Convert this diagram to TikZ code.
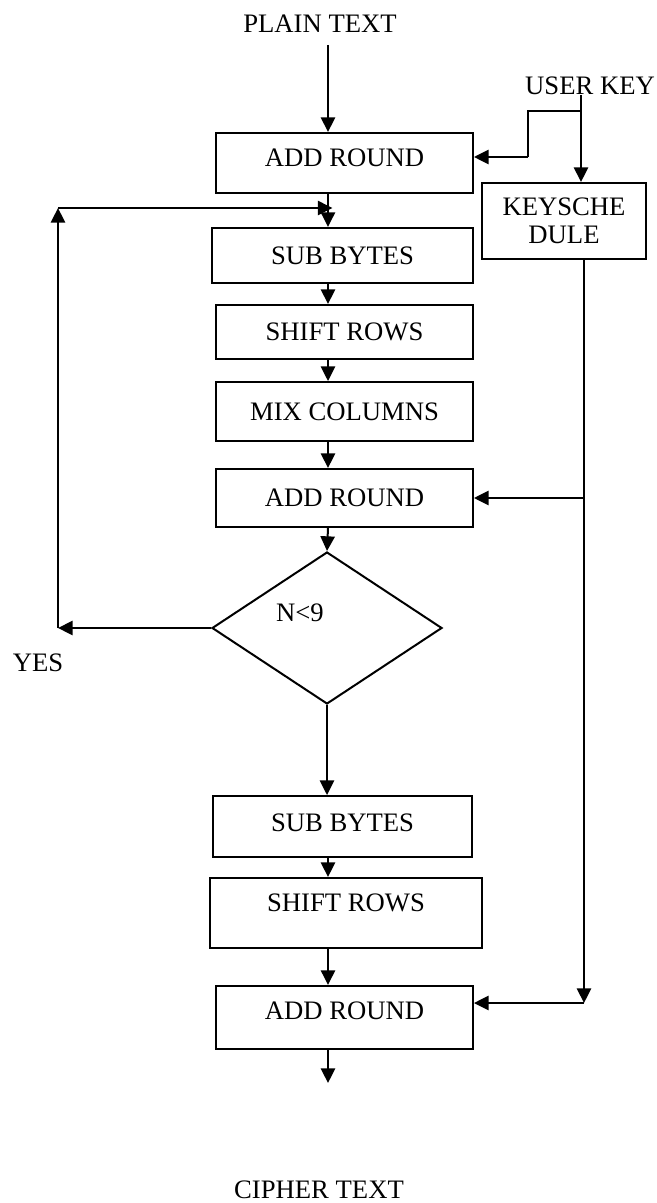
\documentclass[tikz,border=0pt]{standalone}
\usepackage{fontspec}
\setmainfont{Liberation Serif}
\usepackage{tikz}
\usetikzlibrary{ % tikz packages
    shapes.geometric,
    arrows.meta
}
\tikzset{block/.style={
    draw,
    rectangle,
    line width=0.9pt,
    inner sep=2pt,
    minimum width=115.6pt,
    minimum height=26pt
}}
\tikzset{decision/.style={
    draw,
    diamond,
    line width=0.9pt,
    inner sep=0pt,
    minimum width=103.5pt,
    minimum height=68.4pt
}}
\tikzset{caption/.style={
    inner sep=0pt,
    outer sep=0pt
}}
\tikzset{>={Triangle[length=6.6pt,width=6.4pt]}}

\begin{document}
\begin{tikzpicture}[x=0.45pt,y=-0.45pt,line width=0.9pt,
        every node/.style={font=\fontsize{12}{12.6}\selectfont}]
        \useasboundingbox (0,0) rectangle (657,1203);

        \node[caption] (pt) at (320,24) {PLAIN TEXT};
        \node[caption] (uk) at (590,86) {USER KEY};

        \node[block,minimum height=27pt,text depth=4.5pt] (ar1) at (344.5,163) {ADD ROUND};
        \node[block,minimum width=73.8pt,minimum height=34.2pt,align=center] (kse) at (564,221) {KEYSCHE\\DULE};
        \node[block,minimum width=117.4pt,minimum height=24.8pt] (sb1) at (342.5,255.5) {SUB BYTES};
        \node[block,minimum height=24.3pt] (sr1) at (344.5,332) {SHIFT ROWS};
        \node[block,minimum height=26.5pt] (mc) at (344.5,411.5) {MIX COLUMNS};
        \node[block,minimum height=26.1pt] (ar2) at (344.5,498) {ADD ROUND};

        \node[decision,label={[caption,xshift=-12.2pt,yshift=6.8pt]center:{N<9}}] (dec) at (327,628) {};
        \node[caption] (yes) at (38,663) {YES};

        \node[block,minimum width=116.5pt,minimum height=27.4pt,text depth=3.6pt] (sb2) at (342.5,826.5) {SUB BYTES};
        \node[block,minimum width=122.4pt,minimum height=31.5pt,text depth=9pt] (sr2) at (346,913) {SHIFT ROWS};
        \node[block,minimum height=28.4pt,text depth=6.3pt] (ar3) at (344.5,1017.5) {ADD ROUND};

        \node[caption] (ct) at (319,1190) {CIPHER TEXT};

        \coordinate (col) at (328,0);
        \coordinate (kin) at (581,111);
        \coordinate (kb) at (528,157);
        \coordinate (kout) at (584,1003);
        \coordinate (lt) at (58,208);
        \coordinate (cout) at (331,1083);

        % main column
        \path[->]
            ([yshift=-5.4pt]pt.south -| col)
                edge (ar1.north -| col)
            (ar1.south -| col)
                edge (sb1.north -| col)
            (sb1.south -| col)
                edge (sr1.north -| col)
            (sr1.south -| col)
                edge (mc.north -| col)
            (mc.south -| col)
                edge (ar2.north -| col)
            (ar2.south -| col)
                edge (dec.north)
            (sb2.south -| col)
                edge (sr2.north -| col)
            (sr2.south -| col)
                edge (ar3.north -| col)
            (ar3.south -| col)
                edge (cout -| col);
        \draw[->] (dec.south) -- (sb2.north -| dec.south);

        % loop back
        \draw[->] (dec.west) -- (dec.west -| lt);
        \draw[->] (dec.west -| lt) -- (lt);
        \draw[->] (lt) -- ([xshift=2pt]lt -| col);

        % key
        \draw[->] (kin |- uk.south) -- (kin |- kse.north);
        \draw (kin) -- (kin -| kb) -- (kb);
        \draw[->] (kb) -- (kb -| ar1.east);
        \draw[->] (kse.south -| kout) -- (kout);
        \draw[->] (kout |- ar2.east) -- (ar2.east);
        \draw[->] (kout) -- (kout -| ar3.east);
\end{tikzpicture}
\end{document}
